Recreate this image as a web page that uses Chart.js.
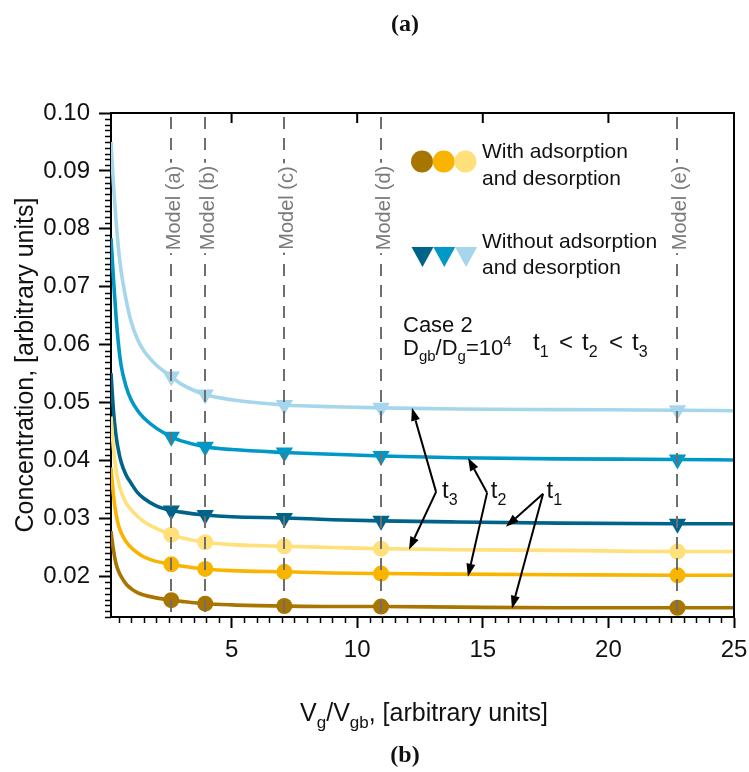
<!DOCTYPE html>
<html>
<head>
<meta charset="utf-8">
<script src="https://cdn.jsdelivr.net/npm/chart.js@4.4.1/dist/chart.umd.min.js"></script>
<style>
  html, body { margin: 0; padding: 0; background: #fff; }
  #wrap { width: 749px; height: 772px; }
</style>
</head>
<body>
<div id="wrap"><canvas id="c" width="749" height="772"></canvas></div>
<script>
const FONT = '"Liberation Sans", Arial, sans-serif';

// V_g/V_gb sample positions shared by every curve
const xValues = [0.2, 0.3, 0.4, 0.5, 0.6, 0.8, 1.0, 1.25, 1.5, 2.0, 2.6, 3.0, 3.95, 5, 7.1, 9, 10.95, 14, 18, 22.75, 25];

// model geometries marked by the dashed verticals
const modelX = [2.6, 3.95, 7.1, 10.95, 22.75];
const modelLabels = ['Model (a)', 'Model (b)', 'Model (c)', 'Model (d)', 'Model (e)'];

// with adsorption and desorption (t1, t2, t3)
const withT1 = [0.0278, 0.0245, 0.0222, 0.0209, 0.0200, 0.0187, 0.0179, 0.0172, 0.0168, 0.0163, 0.0159, 0.0157, 0.0153, 0.0151, 0.0149, 0.0148, 0.0148, 0.0147, 0.0146, 0.0146, 0.0146];
const withT2 = [0.0388, 0.0340, 0.0308, 0.0288, 0.0276, 0.0260, 0.0250, 0.0241, 0.0234, 0.0226, 0.0221, 0.0218, 0.0213, 0.0210, 0.0208, 0.0206, 0.0205, 0.0204, 0.0203, 0.0202, 0.0202];
const withT3 = [0.0476, 0.0420, 0.0385, 0.0362, 0.0347, 0.0327, 0.0315, 0.0304, 0.0295, 0.0283, 0.0272, 0.0267, 0.0259, 0.0255, 0.0252, 0.0250, 0.0248, 0.0246, 0.0245, 0.0243, 0.0243];

// without adsorption and desorption (t1, t2, t3)
const withoutT1 = [0.0551, 0.0485, 0.0443, 0.0417, 0.0398, 0.0375, 0.0361, 0.0345, 0.0335, 0.0322, 0.0314, 0.0311, 0.0306, 0.0303, 0.0301, 0.0298, 0.0296, 0.0294, 0.0292, 0.0291, 0.0291];
const withoutT2 = [0.0784, 0.0712, 0.0650, 0.0600, 0.0565, 0.0528, 0.0505, 0.0487, 0.0474, 0.0456, 0.0441, 0.0434, 0.0424, 0.0419, 0.0414, 0.0411, 0.0408, 0.0405, 0.0403, 0.0402, 0.0401];
const withoutT3 = [0.0950, 0.0875, 0.0815, 0.0765, 0.0728, 0.0678, 0.0640, 0.0610, 0.0590, 0.0565, 0.0545, 0.0532, 0.0514, 0.0505, 0.0496, 0.0493, 0.0491, 0.0489, 0.0488, 0.0487, 0.0486];

// axis ticks
const xTicks = [5, 10, 15, 20, 25];
const yTicks = [0.02, 0.03, 0.04, 0.05, 0.06, 0.07, 0.08, 0.09, 0.10];

const COLORS = {
  brown: '#a87600', orange: '#f9b400', paleYellow: '#ffe07a',
  navy: '#00648a', cyan: '#0098c6', skyBlue: '#a5d6eb'
};

// arrows pointing from each t label to its pair of curves (data coordinates)
const arrowNotes = [
  { sub: '3', label: [13.38, 0.03357], vertex: [13.14, 0.03460], tips: [[12.18, 0.0491], [12.06, 0.0246]] },
  { sub: '2', label: [15.32, 0.03357], vertex: [15.17, 0.03443], tips: [[14.41, 0.04047], [14.41, 0.01995]] },
  { sub: '1', label: [17.54, 0.03357], vertex: [17.40, 0.03426], tips: [[15.92, 0.02857], [16.16, 0.01443]] }
];

function series(values, color, style) {
  return {
    data: xValues.map((x, i) => ({ x: x, y: values[i] })),
    borderColor: color,
    backgroundColor: color,
    borderWidth: 3.6,
    cubicInterpolationMode: 'monotone',
    pointStyle: style,
    rotation: style === 'triangle' ? 180 : 0,
    pointBackgroundColor: color,
    pointBorderWidth: 0,
    pointRadius: ctx => modelX.includes(xValues[ctx.dataIndex]) ? (style === 'triangle' ? 10 : 8) : 0,
    pointHoverRadius: 0
  };
}

function richText(ctx, parts, x, y, align) {
  let total = 0;
  parts.forEach(p => { ctx.font = p.size + 'px ' + FONT; p.w = ctx.measureText(p.t).width; total += p.w; });
  let cx = align === 'center' ? x - total / 2 : x;
  ctx.textAlign = 'left';
  ctx.textBaseline = 'alphabetic';
  parts.forEach(p => {
    ctx.font = p.size + 'px ' + FONT;
    ctx.fillText(p.t, cx, y + (p.dy || 0));
    cx += p.w;
  });
}

function arrow(ctx, x0, y0, x1, y1) {
  const ang = Math.atan2(y1 - y0, x1 - x0);
  const headLen = 13, headHalf = 4.5;
  const bx = x1 - Math.cos(ang) * headLen, by = y1 - Math.sin(ang) * headLen;
  ctx.beginPath();
  ctx.moveTo(x0, y0);
  ctx.lineTo(bx, by);
  ctx.stroke();
  ctx.beginPath();
  ctx.moveTo(x1, y1);
  ctx.lineTo(bx + Math.sin(ang) * headHalf, by - Math.cos(ang) * headHalf);
  ctx.lineTo(bx - Math.sin(ang) * headHalf, by + Math.cos(ang) * headHalf);
  ctx.closePath();
  ctx.fill();
}

const decorations = {
  id: 'decorations',
  afterDatasetsDraw(chart) {
    const { ctx, chartArea: a, scales: { x } } = chart;
    ctx.save();
    // dashed model verticals over the curves
    ctx.strokeStyle = '#6e6e6e';
    ctx.lineWidth = 2;
    ctx.setLineDash([12, 9]);
    modelX.forEach(v => {
      const px = Math.round(x.getPixelForValue(v));
      ctx.beginPath();
      ctx.moveTo(px, a.top + 4);
      ctx.lineTo(px, a.bottom);
      ctx.stroke();
    });
    ctx.setLineDash([]);
    // rotated model labels
    ctx.font = '20px ' + FONT;
    modelX.forEach((v, i) => {
      const px = Math.round(x.getPixelForValue(v));
      ctx.save();
      ctx.translate(px + 3, 208);
      ctx.rotate(-Math.PI / 2);
      const w = ctx.measureText(modelLabels[i]).width;
      ctx.fillStyle = '#fff';
      ctx.fillRect(-w / 2 - 3, -10, w + 6, 20);
      ctx.fillStyle = '#7a7a7a';
      ctx.textAlign = 'center';
      ctx.textBaseline = 'middle';
      ctx.fillText(modelLabels[i], 0, 0);
      ctx.restore();
    });
    ctx.restore();
  },
  afterDraw(chart) {
    const { ctx, chartArea: a, scales: { x, y } } = chart;
    ctx.save();
    ctx.strokeStyle = '#000';
    ctx.fillStyle = '#000';

    // frame: top and right edges
    ctx.lineWidth = 2;
    ctx.beginPath();
    ctx.moveTo(a.left, a.top);
    ctx.lineTo(a.right, a.top);
    ctx.lineTo(a.right, a.bottom);
    ctx.stroke();
    // inward major ticks on the top edge
    xTicks.forEach(v => {
      const px = x.getPixelForValue(v);
      ctx.beginPath();
      ctx.moveTo(px, a.top);
      ctx.lineTo(px, a.top + 10);
      ctx.stroke();
    });
    // minor ticks
    ctx.lineWidth = 1.5;
    for (let i = 13; i <= 100; i++) {
      if (i % 10 === 0) continue;
      const py = Math.round(y.getPixelForValue(i / 1000)) + 0.5;
      ctx.beginPath();
      ctx.moveTo(a.left - 6, py);
      ctx.lineTo(a.left, py);
      ctx.stroke();
    }
    for (let i = 1; i <= 50; i++) {
      if (i % 10 === 0) continue;
      const px = Math.round(x.getPixelForValue(i / 2)) + 0.5;
      ctx.beginPath();
      ctx.moveTo(px, a.bottom);
      ctx.lineTo(px, a.bottom + 6);
      ctx.stroke();
    }

    // axis titles
    ctx.fillStyle = '#111';
    richText(ctx, [
      { t: 'V', size: 25 }, { t: 'g', size: 17, dy: 7 }, { t: '/V', size: 25 },
      { t: 'gb', size: 17, dy: 7 }, { t: ', [arbitrary units]', size: 25 }
    ], 424, 721, 'center');
    ctx.save();
    ctx.translate(33, 365);
    ctx.rotate(-Math.PI / 2);
    ctx.font = '25px ' + FONT;
    ctx.textAlign = 'center';
    ctx.textBaseline = 'alphabetic';
    ctx.fillText('Concentration, [arbitrary units]', 0, 0);
    ctx.restore();

    // legend markers
    [COLORS.brown, COLORS.orange, COLORS.paleYellow].forEach((c, i) => {
      ctx.fillStyle = c;
      ctx.beginPath();
      ctx.arc(422 + i * 21.7, 161.5, 11, 0, Math.PI * 2);
      ctx.fill();
    });
    [COLORS.navy, COLORS.cyan, COLORS.skyBlue].forEach((c, i) => {
      const cx = 422.5 + i * 21.8;
      ctx.fillStyle = c;
      ctx.beginPath();
      ctx.moveTo(cx - 11, 247);
      ctx.lineTo(cx + 11, 247);
      ctx.lineTo(cx, 267);
      ctx.closePath();
      ctx.fill();
    });
    ctx.fillStyle = '#111';
    ctx.font = '21px ' + FONT;
    ctx.textAlign = 'left';
    ctx.textBaseline = 'alphabetic';
    ctx.fillText('With adsorption', 482, 158);
    ctx.fillText('and desorption', 482, 185);
    ctx.fillText('Without adsorption', 482, 248);
    ctx.fillText('and desorption', 482, 274);

    // case annotation
    ctx.font = '22px ' + FONT;
    ctx.fillText('Case 2', 403, 332);
    richText(ctx, [
      { t: 'D', size: 22 }, { t: 'gb', size: 15, dy: 6 }, { t: '/D', size: 22 },
      { t: 'g', size: 15, dy: 6 }, { t: '=10', size: 22 }, { t: '4', size: 15, dy: -9 }
    ], 403, 355, 'left');
    // t1 < t2 < t3
    [['1', 533], ['2', 582], ['3', 632]].forEach(([s, px]) => {
      richText(ctx, [{ t: 't', size: 24 }, { t: s, size: 16, dy: 7 }], px, 350, 'left');
    });
    ctx.font = '24px ' + FONT;
    ctx.fillText('<', 559, 350);
    ctx.fillText('<', 609, 350);

    // t labels with arrows
    ctx.strokeStyle = '#000';
    ctx.fillStyle = '#000';
    ctx.lineWidth = 2;
    arrowNotes.forEach(n => {
      const vx = x.getPixelForValue(n.vertex[0]), vy = y.getPixelForValue(n.vertex[1]);
      n.tips.forEach(t => arrow(ctx, vx, vy, x.getPixelForValue(t[0]), y.getPixelForValue(t[1])));
      ctx.fillStyle = '#111';
      richText(ctx, [{ t: 't', size: 24 }, { t: n.sub, size: 16, dy: 7 }],
        x.getPixelForValue(n.label[0]), y.getPixelForValue(n.label[1]), 'left');
      ctx.fillStyle = '#000';
    });

    // panel captions
    ctx.fillStyle = '#111';
    ctx.font = 'bold 24px "Liberation Serif", "DejaVu Serif", serif';
    ctx.textAlign = 'center';
    ctx.fillText('(a)', 405, 31);
    ctx.fillText('(b)', 405, 762);
    ctx.restore();
  }
};

new Chart(document.getElementById('c'), {
  type: 'line',
  data: {
    datasets: [
      series(withT1, COLORS.brown, 'circle'),
      series(withT2, COLORS.orange, 'circle'),
      series(withT3, COLORS.paleYellow, 'circle'),
      series(withoutT1, COLORS.navy, 'triangle'),
      series(withoutT2, COLORS.cyan, 'triangle'),
      series(withoutT3, COLORS.skyBlue, 'triangle')
    ]
  },
  options: {
    responsive: false,
    devicePixelRatio: 1,
    animation: false,
    layout: { padding: { top: 113, right: 15, left: 0, bottom: 0 } },
    plugins: { legend: { display: false }, tooltip: { enabled: false } },
    scales: {
      x: {
        type: 'linear',
        min: 0.2,
        max: 25,
        afterBuildTicks: s => { s.ticks = xTicks.map(v => ({ value: v })); },
        afterFit: s => { s.height = 155; s.paddingLeft = 0; s.paddingRight = 0; },
        ticks: {
          autoSkip: false, maxRotation: 0, padding: 8, color: '#111',
          font: { family: FONT, size: 24 },
          callback: v => String(v)
        },
        grid: { display: true, drawOnChartArea: false, drawTicks: true, tickLength: 11, tickWidth: 2, tickColor: '#000' },
        border: { display: true, color: '#000', width: 2 }
      },
      y: {
        type: 'linear',
        min: 0.013,
        max: 0.1,
        afterBuildTicks: s => { s.ticks = yTicks.map(v => ({ value: v })); },
        afterFit: s => { s.width = 111; s.paddingTop = 0; s.paddingBottom = 0; },
        ticks: {
          autoSkip: false, padding: 9, color: '#111',
          font: { family: FONT, size: 24 },
          callback: v => v.toFixed(2)
        },
        grid: { display: true, drawOnChartArea: false, drawTicks: true, tickLength: 12, tickWidth: 2, tickColor: '#000' },
        border: { display: true, color: '#000', width: 2 }
      }
    }
  },
  plugins: [decorations]
});
</script>
</body>
</html>
